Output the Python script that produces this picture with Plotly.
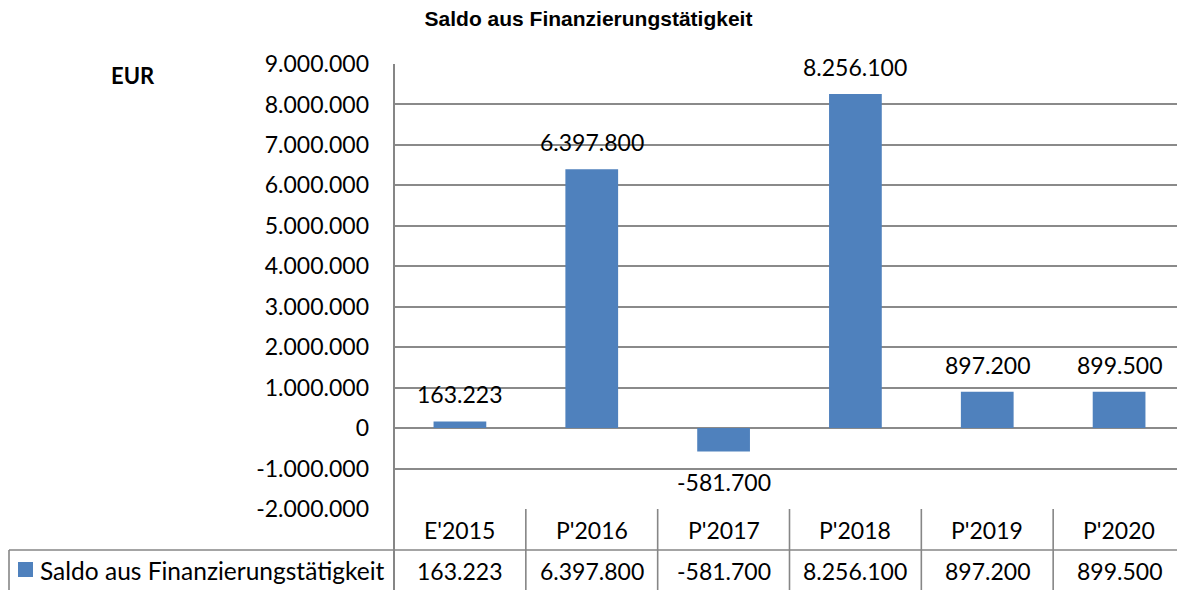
import plotly.graph_objects as go

# ---- data ----
categories = ["E'2015", "P'2016", "P'2017", "P'2018", "P'2019", "P'2020"]
values = [163223, 6397800, -581700, 8256100, 897200, 899500]
series_name = "Saldo aus Finanzierungstätigkeit"
chart_title = "Saldo aus Finanzierungstätigkeit"
unit_label = "EUR"
y_ticks = [-2000000, -1000000, 0, 1000000, 2000000, 3000000, 4000000,
           5000000, 6000000, 7000000, 8000000, 9000000]


def de(n):
    return f"{n:,}".replace(",", ".")


# ---- layout geometry (page pixels; page body has an 8px margin) ----
OFF = 8
PAGE_W, PAGE_H = 1185, 590
W, H = PAGE_W - OFF, PAGE_H - OFF
PL, PT, PB = 394, 64, 509          # plot left, top, bottom in page pixels
L, T = PL - OFF, PT - OFF
B = H - (PB - OFF)
R = 0
PW, PH = W - L - R, H - T - B


def px(p):
    return (p - PL) / PW


def py(p):
    return (PB - p) / PH


BAR = "#4F81BD"
GRID = "#8a8a8a"
AXIS = "#868686"
FONT = "Lato"
TXT = 23

fig = go.Figure()
fig.add_trace(go.Bar(x=categories, y=values, marker_color=BAR,
                     marker_line_width=0, name=series_name, showlegend=False))

annotations = []
# data labels
for c, v in zip(categories, values):
    annotations.append(dict(x=c, y=v, xref="x", yref="y", text=de(v),
                            showarrow=False, yanchor="middle",
                            yshift=27 if v >= 0 else -30,
                            font=dict(family=FONT, size=TXT, color="black")))
# table: category row and value row
n = len(categories)
for c, v in zip(categories, values):
    annotations.append(dict(x=c, y=py(529.5), xref="x", yref="paper", text=c,
                            showarrow=False, yanchor="middle",
                            font=dict(family=FONT, size=TXT, color="black")))
    annotations.append(dict(x=c, y=py(570.5), xref="x", yref="paper", text=de(v),
                            showarrow=False, yanchor="middle",
                            font=dict(family=FONT, size=TXT, color="black")))
# legend text in table
annotations.append(dict(x=px(38), y=py(570.5), xref="paper", yref="paper",
                        text=series_name, showarrow=False, xanchor="left",
                        yanchor="middle",
                        font=dict(family=FONT, size=24.5, color="black")))
# unit label
annotations.append(dict(x=px(133), y=py(75), xref="paper", yref="paper",
                        text="<b>" + unit_label + "</b>", showarrow=False,
                        xanchor="center", yanchor="middle",
                        font=dict(family=FONT, size=22, color="black")))

line = dict(color=AXIS, width=1.6)
shapes = []
# table horizontal line between rows
shapes.append(dict(type="line", xref="paper", yref="paper", x0=px(9), x1=1,
                   y0=py(550), y1=py(550), line=line))
# left border of legend cell
shapes.append(dict(type="line", xref="paper", yref="paper", x0=px(9), x1=px(9),
                   y0=py(550), y1=py(592), line=line))
# plot left axis extending through table
shapes.append(dict(type="line", xref="paper", yref="paper", x0=0, x1=0,
                   y0=1, y1=py(592), line=dict(color=AXIS, width=2)))
# cell separators
for i in range(1, n):
    shapes.append(dict(type="line", xref="paper", yref="paper", x0=i / n, x1=i / n,
                       y0=0, y1=py(592), line=line))
# legend key
shapes.append(dict(type="rect", xref="paper", yref="paper", x0=px(18), x1=px(33),
                   y0=py(577), y1=py(562), fillcolor=BAR, line=dict(width=0)))

fig.update_layout(
    width=W, height=H,
    margin=dict(l=L, r=R, t=T, b=B, pad=0),
    paper_bgcolor="white", plot_bgcolor="white",
    separators=",.",
    bargap=0.6,
    title=dict(text="<b>" + chart_title + "</b>", x=(588.5 - OFF) / W,
               xref="container", xanchor="center",
               y=1 - (19 - OFF) / H, yref="container", yanchor="middle",
               font=dict(family="Liberation Sans", size=21, color="black")),
    xaxis=dict(type="category", showticklabels=False, showgrid=False,
               zeroline=False, showline=False, fixedrange=True),
    yaxis=dict(range=[-2000000, 9000000], tickvals=y_ticks,
               ticktext=[de(t) for t in y_ticks],
               showgrid=True, gridcolor=GRID, gridwidth=1.6,
               zeroline=False, showline=False, ticks="",
               ticklabelstandoff=24,
               tickfont=dict(family=FONT, size=TXT, color="black")),
    annotations=annotations,
    shapes=shapes,
)

fig.write_html("out.html")
